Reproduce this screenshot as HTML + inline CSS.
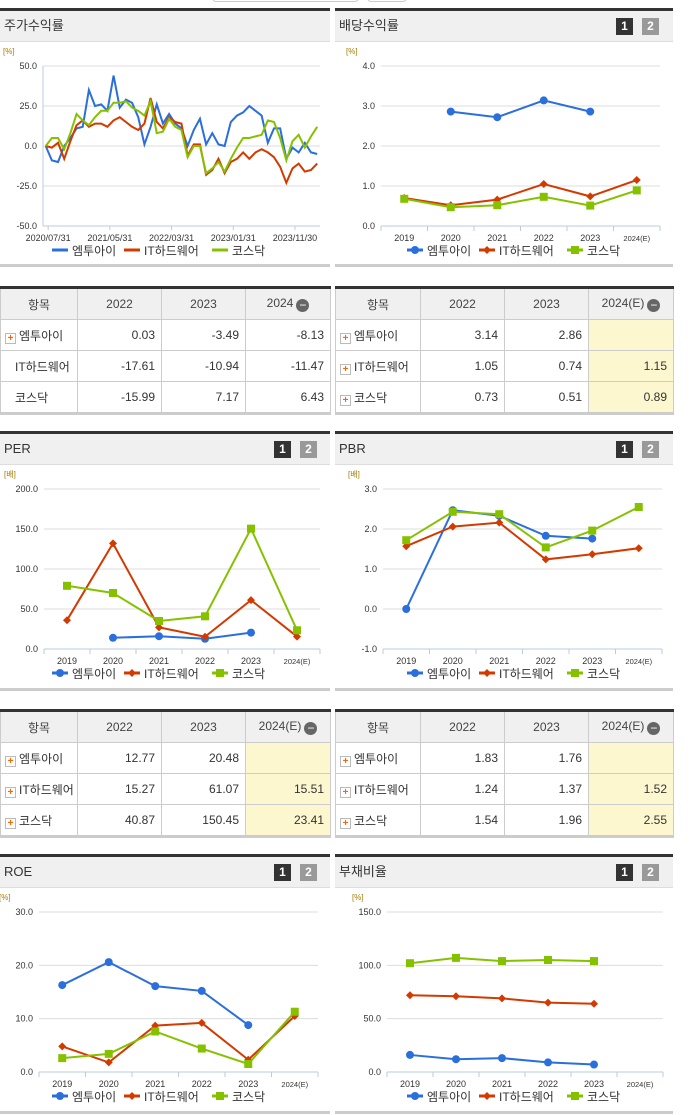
<!DOCTYPE html>
<html><head><meta charset="utf-8">
<style>
body{margin:0;width:691px;height:1115px;background:#fff;font-family:"Liberation Sans","Noto Sans CJK KR",sans-serif;position:relative;overflow:hidden}
.hd{position:absolute;height:30px;background:#f0f0f0;border-top:3px solid #333;border-bottom:1px solid #ddd;font-size:13px;color:#333;line-height:30px;padding-left:4px;box-sizing:content-box}
.pb{position:absolute;height:3px;background:#ccc}
.b12{position:absolute;top:7px;width:17px;height:17px;font-size:12px;font-weight:bold;color:#fff;text-align:center;line-height:17px}
table{position:absolute;border-collapse:collapse;table-layout:fixed;font-size:12px;color:#333;border-top:3px solid #333;border-bottom:3px solid #ccc}
td,th{border:1px solid #ccc;height:30px;padding:0 6px;text-align:right;font-weight:normal;overflow:hidden}
th{background:#f0f0f0;text-align:center;color:#444}
td.n{text-align:left;padding-left:4px;white-space:nowrap}
td.y{background:#fdf7d0}
.pl{display:inline-block;width:9px;height:9px;border:1px solid #bbb;background:#fff;color:#f60;font-size:10px;line-height:9px;text-align:center;font-weight:bold;margin-right:3px;vertical-align:-1px}
.mi{display:inline-block;width:13px;height:13px;border-radius:50%;background:#666;color:#fff;font-size:12px;line-height:12px;text-align:center;vertical-align:-2px;margin-left:3px}
svg{position:absolute;left:0;top:0}
</style></head><body>
<div style="position:absolute;left:212px;top:-8px;width:200px;height:10px;">
<div style="position:absolute;left:0;width:145px;height:8px;border:1px solid #ccc;border-radius:4px"></div>
<div style="position:absolute;left:155px;width:38px;height:8px;border:1px solid #ccc;border-radius:4px"></div>
</div>

<div class="hd" style="left:0;top:8px;width:326px">주가수익률</div>
<div class="hd" style="left:335px;top:8px;width:334px">배당수익률
<span class="b12" style="right:40px;background:#333">1</span><span class="b12" style="right:14px;background:#999">2</span></div>
<div class="pb" style="left:0;top:264px;width:330px"></div><div class="pb" style="left:335px;top:264px;width:338px"></div>

<div class="hd" style="left:0;top:431px;width:326px">PER
<span class="b12" style="right:39px;background:#333">1</span><span class="b12" style="right:13px;background:#999">2</span></div>
<div class="hd" style="left:335px;top:431px;width:334px">PBR
<span class="b12" style="right:40px;background:#333">1</span><span class="b12" style="right:14px;background:#999">2</span></div>
<div class="pb" style="left:0;top:688px;width:330px"></div><div class="pb" style="left:335px;top:688px;width:338px"></div>

<div class="hd" style="left:0;top:854px;width:326px">ROE
<span class="b12" style="right:39px;background:#333">1</span><span class="b12" style="right:13px;background:#999">2</span></div>
<div class="hd" style="left:335px;top:854px;width:334px">부채비율
<span class="b12" style="right:40px;background:#333">1</span><span class="b12" style="right:14px;background:#999">2</span></div>
<div class="pb" style="left:0;top:1111px;width:330px"></div><div class="pb" style="left:335px;top:1111px;width:338px"></div>

<table style="left:0;top:286px;width:330px">
<colgroup><col style="width:77px"><col style="width:84px"><col style="width:84px"><col style="width:85px"></colgroup>
<tr><th>항목</th><th>2022</th><th>2023</th><th>2024<span class="mi">−</span></th></tr>
<tr><td class="n"><span class="pl">+</span>엠투아이</td><td>0.03</td><td>-3.49</td><td>-8.13</td></tr>
<tr><td class="n" style="padding-left:14px">IT하드웨어</td><td>-17.61</td><td>-10.94</td><td>-11.47</td></tr>
<tr><td class="n" style="padding-left:14px">코스닥</td><td>-15.99</td><td>7.17</td><td>6.43</td></tr></table>

<table style="left:335px;top:286px;width:338px">
<colgroup><col style="width:85px"><col style="width:84px"><col style="width:84px"><col style="width:85px"></colgroup>
<tr><th>항목</th><th>2022</th><th>2023</th><th>2024(E)<span class="mi">−</span></th></tr>
<tr><td class="n"><span class="pl">+</span>엠투아이</td><td>3.14</td><td>2.86</td><td class="y"></td></tr>
<tr><td class="n"><span class="pl">+</span>IT하드웨어</td><td>1.05</td><td>0.74</td><td class="y">1.15</td></tr>
<tr><td class="n"><span class="pl">+</span>코스닥</td><td>0.73</td><td>0.51</td><td class="y">0.89</td></tr></table>

<table style="left:0;top:709px;width:330px">
<colgroup><col style="width:77px"><col style="width:84px"><col style="width:84px"><col style="width:85px"></colgroup>
<tr><th>항목</th><th>2022</th><th>2023</th><th>2024(E)<span class="mi">−</span></th></tr>
<tr><td class="n"><span class="pl">+</span>엠투아이</td><td>12.77</td><td>20.48</td><td class="y"></td></tr>
<tr><td class="n"><span class="pl">+</span>IT하드웨어</td><td>15.27</td><td>61.07</td><td class="y">15.51</td></tr>
<tr><td class="n"><span class="pl">+</span>코스닥</td><td>40.87</td><td>150.45</td><td class="y">23.41</td></tr></table>

<table style="left:335px;top:709px;width:338px">
<colgroup><col style="width:85px"><col style="width:84px"><col style="width:84px"><col style="width:85px"></colgroup>
<tr><th>항목</th><th>2022</th><th>2023</th><th>2024(E)<span class="mi">−</span></th></tr>
<tr><td class="n"><span class="pl">+</span>엠투아이</td><td>1.83</td><td>1.76</td><td class="y"></td></tr>
<tr><td class="n"><span class="pl">+</span>IT하드웨어</td><td>1.24</td><td>1.37</td><td class="y">1.52</td></tr>
<tr><td class="n"><span class="pl">+</span>코스닥</td><td>1.54</td><td>1.96</td><td class="y">2.55</td></tr></table>

<svg id="s" width="691" height="1115" xmlns="http://www.w3.org/2000/svg" font-family="Liberation Sans, Noto Sans CJK KR, sans-serif"></svg>
<script>
const returnBlue=[0,-9,-10,0,5,11,12,35,25,26,22,44,24,29,27,18,1,12,26,14,20,14,11,0,10,17,1,8,1,0,15,19,21,25,22,19,2,11,11,-8,-1,-4,2,-4,-5];
const returnRed=[0,-1,2,-8,3,13,16,12,14,14,12,16,18,15,12,10,14,30,15,11,18,15,14,-6,1,1,-18,-15,-8,-17,-10,-8,-4,-8,-4,-2,-4,-7,-13,-23,-14,-11,-16,-15,-11];
const returnGreen=[0,5,5,-2,8,20,16,13,18,22,22,27,27,28,24,22,19,28,8,9,17,12,10,-7,0,0,-17,-14,-10,-16,-8,-1,5,5,6,7,16,15,5,-9,3,7,-1,6,12];
const returnDateLabels=["2020/07/31","2021/05/31","2022/03/31","2023/01/31","2023/11/30"];
const returnDateIdx=[0.4,10.4,20.4,30.4,40.4];
const returnTicks=[50,25,0,-25,-50];
const years=["2019","2020","2021","2022","2023","2024(E)"];
const divBlue=[null,2.86,2.72,3.14,2.86,null];
const divRed=[0.70,0.52,0.66,1.05,0.74,1.15];
const divGreen=[0.68,0.47,0.52,0.73,0.51,0.89];
const divTicks=[4,3,2,1,0];
const perBlue=[null,14,16,12.77,20.48,null];
const perRed=[36,132,27,15.27,61.07,15.51];
const perGreen=[79,70,35,40.87,150.45,23.41];
const perTicks=[200,150,100,50,0];
const pbrBlue=[0,2.47,2.33,1.83,1.76,null];
const pbrRed=[1.57,2.06,2.16,1.24,1.37,1.52];
const pbrGreen=[1.72,2.43,2.37,1.54,1.96,2.55];
const pbrTicks=[3,2,1,0,-1];
const roeBlue=[16.3,20.6,16.1,15.2,8.8,null];
const roeRed=[4.8,1.8,8.7,9.2,2.3,10.5];
const roeGreen=[2.6,3.4,7.6,4.4,1.5,11.3];
const roeTicks=[30,20,10,0];
const debtBlue=[16,12,13,9,7,null];
const debtRed=[72,71,69,65,64,null];
const debtGreen=[102,107,104,105,104,null];
const debtTicks=[150,100,50,0];
const seriesNames=["엠투아이","IT하드웨어","코스닥"];
const COL=["#2a6fdb","#d33a00","#86c100"];

const S=document.getElementById('s');
const NS="http://www.w3.org/2000/svg";
function el(t,a,p){const e=document.createElementNS(NS,t);for(const k in a)e.setAttribute(k,a[k]);(p||S).appendChild(e);return e;}
function txt(x,y,s,a,p){const e=el('text',Object.assign({x:x,y:y,'font-size':9,fill:'#333'},a||{}),p);e.textContent=s;return e;}
function marker(g,k,x,y){
  let m;
  if(k==0)m=el('circle',{cx:x,cy:y,r:4,fill:COL[0]},g);
  else if(k==1)m=el('path',{d:`M${x} ${y-4}L${x+4} ${y}L${x} ${y+4}L${x-4} ${y}Z`,fill:COL[1]},g);
  else m=el('rect',{x:x-4,y:y-4,width:8,height:8,fill:COL[2]},g);
  
  
}
function legend(cx,y,markers){
  const g=el('g',{});
  
  
  const xs=[cx-105,cx-33,cx+55];
  for(let k=0;k<3;k++){
    el('line',{x1:xs[k]-8,y1:y,x2:xs[k]+8,y2:y,stroke:COL[k],'stroke-width':3},g);
    if(markers)marker(g,k,xs[k],y);
    const t=txt(xs[k]+12,y+5,seriesNames[k],{'font-size':12,fill:'#333'},g);
    
  }
}
function yAxis(ticks,ymin,ymax,top,bot,x0,x1,unit,name){
  const g=el('g',{});
  
  
  const sy=v=>bot-(v-ymin)/(ymax-ymin)*(bot-top);
  ticks.forEach(v=>{
    el('line',{x1:x0,y1:sy(v),x2:x1,y2:sy(v),stroke:'#ddd','stroke-width':1},g);
    txt(x0-6,sy(v)+3,v.toFixed(1),{'text-anchor':'end'},g);
  });
  txt(x0-40+(x0>300?5:0),top-12,unit,{'font-size':8,fill:'#a67c00'},g);
  return sy;
}
function catChart(name,x0,x1,top,bot,ymin,ymax,ticks,unit,data){
  const sy=yAxis(ticks,ymin,ymax,top,bot,x0,x1,unit,name);
  const bw=(x1-x0)/years.length;
  const sx=i=>x0+bw*(i+0.5);
  const g=el('g',{});
  
  
  el('line',{x1:x0,y1:sy(ymin),x2:x1,y2:sy(ymin),stroke:'#bcd','stroke-width':1},g);
  for(let i=0;i<=years.length;i++)el('line',{x1:x0+bw*i,y1:sy(ymin),x2:x0+bw*i,y2:sy(ymin)+5,stroke:'#bcd'},g);
  years.forEach((y,i)=>txt(sx(i),sy(ymin)+15,y,{'text-anchor':'middle','font-size':y.length>4?7.5:9},g));
  data.forEach((arr,k)=>{
    const sg=el('g',{});
    
    
    let d='';let pen=false;
    arr.forEach((v,i)=>{if(v==null){pen=false;return;}d+=(pen?'L':'M')+sx(i)+' '+sy(v);pen=true;});
    el('path',{d:d,fill:'none',stroke:COL[k],'stroke-width':2},sg);
    arr.forEach((v,i)=>{if(v!=null)marker(sg,k,sx(i),sy(v));});
  });
}
(function(){
  const x0=43,x1=320,top=66,bot=226;
  const sy=yAxis(returnTicks,-50,50,top,bot,x0,x1,'[%]','stock-return');
  el('line',{x1:x0,y1:top,x2:x0,y2:bot,stroke:'#bcd'});
  el('line',{x1:x0,y1:bot,x2:x1,y2:bot,stroke:'#bcd'});
  const sx=i=>45.7+6.17*i;
  returnDateIdx.forEach((ix,j)=>{
    el('line',{x1:sx(ix),y1:bot,x2:sx(ix),y2:bot+4,stroke:'#bcd'});
    const t=txt(sx(ix),bot+15,returnDateLabels[j],{'text-anchor':'middle','font-size':9});
    
  });
  [returnBlue,returnRed,returnGreen].forEach((arr,k)=>{
    const p=el('path',{d:arr.map((v,i)=>(i?'L':'M')+sx(i)+' '+sy(v)).join(''),fill:'none',stroke:COL[k],'stroke-width':2});
    
    
  });
  legend(165,250,false);
})();
catChart('dividend',381,660,66,226,0,4,divTicks,'[%]',[divBlue,divRed,divGreen]);
legend(520,250,true);
catChart('per',44,320,489,649,0,200,perTicks,'[배]',[perBlue,perRed,perGreen]);
legend(165,673,true);
catChart('pbr',383,662,489,649,-1,3,pbrTicks,'[배]',[pbrBlue,pbrRed,pbrGreen]);
legend(520,673,true);
catChart('roe',39,318,912,1072,0,30,roeTicks,'[%]',[roeBlue,roeRed,roeGreen]);
legend(165,1096,true);
catChart('debt-ratio',387,663,912,1072,0,150,debtTicks,'[%]',[debtBlue,debtRed,debtGreen]);
legend(520,1096,true);
</script>
</body></html>
